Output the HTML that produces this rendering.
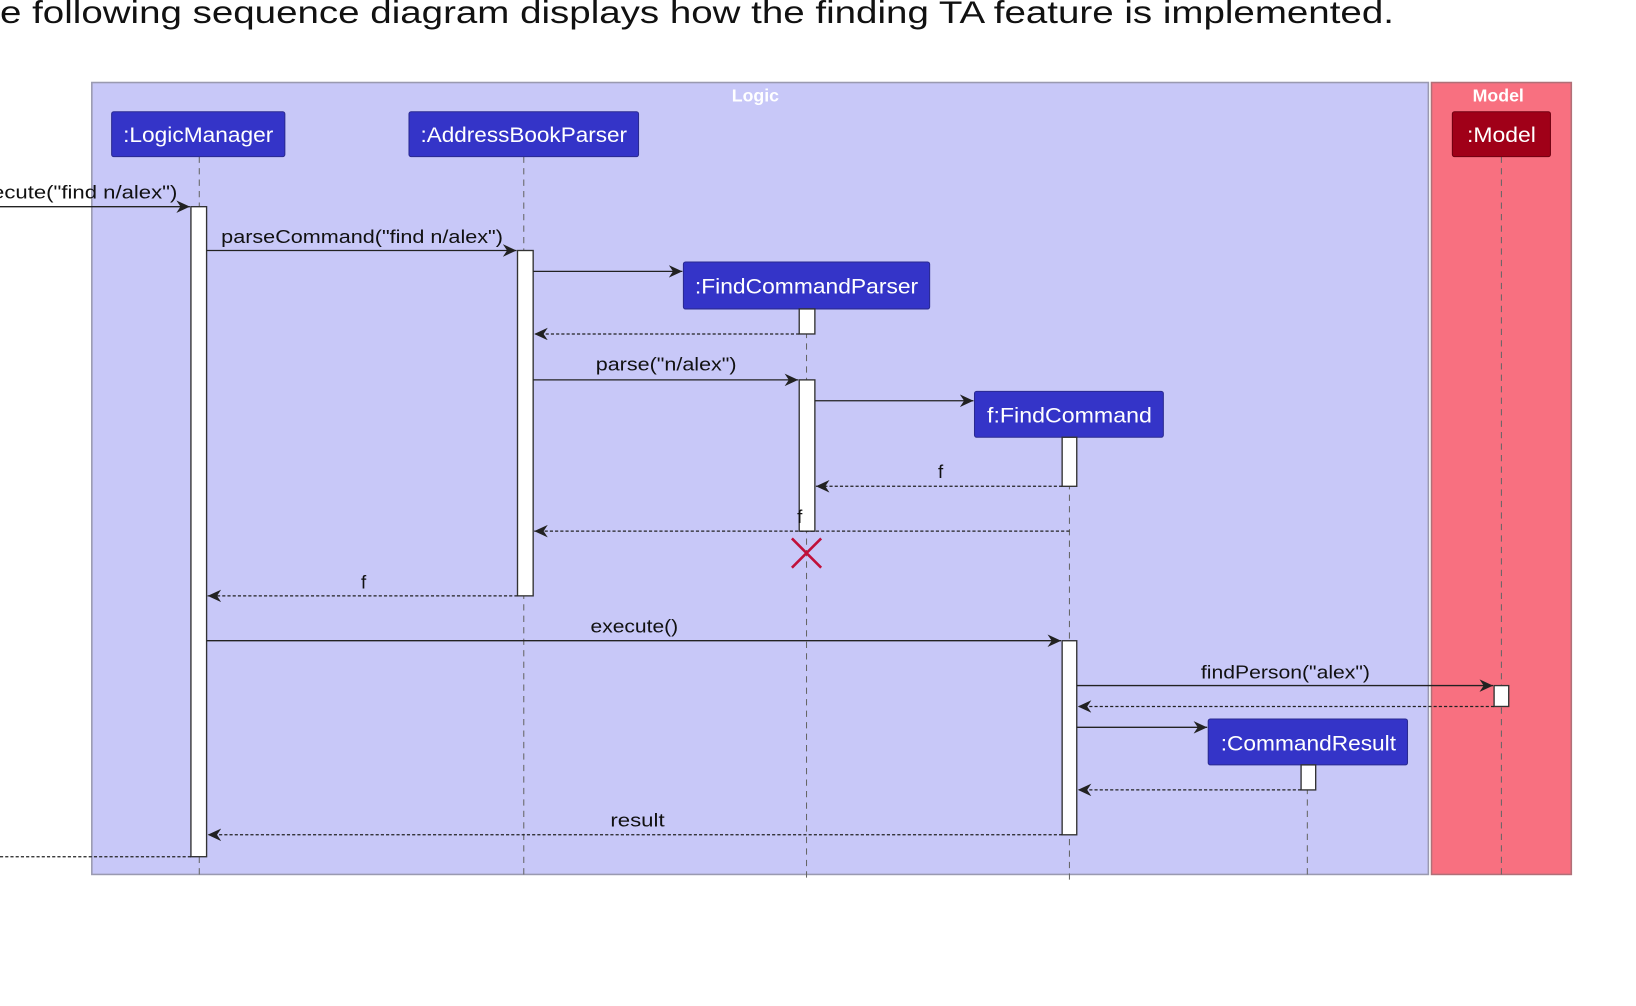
<!DOCTYPE html>
<html><head><meta charset="utf-8"><style>
html,body{margin:0;padding:0;background:#fff;width:1636px;height:1006px;overflow:hidden}
svg{display:block}
text{font-family:"Liberation Sans","DejaVu Sans",sans-serif}
</style></head><body>
<svg width="1636" height="1006" viewBox="0 0 1568 964" xmlns="http://www.w3.org/2000/svg">
<defs>
<marker id="a" markerWidth="14" markerHeight="12" refX="13" refY="6" orient="auto" markerUnits="userSpaceOnUse">
<path d="M0,0 L13,6 L0,12 L4,6 Z" fill="#222"/></marker>
</defs>
<text x="0" y="22" font-size="30" fill="#111" textLength="1336" lengthAdjust="spacingAndGlyphs">e following sequence diagram displays how the finding TA feature is implemented.</text>
<rect x="88" y="79" width="1281" height="759" fill="#C8C8F8" stroke="#9a9ab0" stroke-width="1.5"/>
<rect x="1372" y="79" width="134" height="759" fill="#F87080" stroke="#b07078" stroke-width="1.5"/>
<text x="724" y="97" font-size="17" font-weight="bold" fill="#fff" text-anchor="middle">Logic</text>
<text x="1436" y="97" font-size="17" font-weight="bold" fill="#fff" text-anchor="middle">Model</text>
<g stroke="#666" stroke-width="1" stroke-dasharray="6,5">
<line x1="191" y1="150" x2="191" y2="842"/><line x1="502" y1="150" x2="502" y2="842"/>
<line x1="773" y1="296" x2="773" y2="842"/><line x1="1025" y1="419" x2="1025" y2="848"/>
<line x1="1253" y1="733" x2="1253" y2="842"/><line x1="1439" y1="150" x2="1439" y2="842"/>
</g>
<g font-size="20" fill="#fff" text-anchor="middle">
<rect x="107" y="107" width="166" height="43" rx="2" fill="#3434C8" stroke="#2a2a90"/><text x="190" y="136" textLength="144" lengthAdjust="spacingAndGlyphs">:LogicManager</text>
<rect x="392" y="107" width="220" height="43" rx="2" fill="#3434C8" stroke="#2a2a90"/><text x="502" y="136" textLength="198" lengthAdjust="spacingAndGlyphs">:AddressBookParser</text>
<rect x="1392" y="107" width="94" height="43" rx="2" fill="#A00018" stroke="#700010"/><text x="1439" y="136" textLength="66" lengthAdjust="spacingAndGlyphs">:Model</text>
<rect x="655" y="251" width="236" height="45" rx="2" fill="#3434C8" stroke="#2a2a90"/><text x="773" y="281" textLength="214" lengthAdjust="spacingAndGlyphs">:FindCommandParser</text>
<rect x="934" y="375" width="181" height="44" rx="2" fill="#3434C8" stroke="#2a2a90"/><text x="1025" y="405" textLength="158" lengthAdjust="spacingAndGlyphs">f:FindCommand</text>
<rect x="1158" y="689" width="191" height="44" rx="2" fill="#3434C8" stroke="#2a2a90"/><text x="1254" y="719" textLength="168" lengthAdjust="spacingAndGlyphs">:CommandResult</text>
</g>
<g fill="#fff" stroke="#333" stroke-width="1.3">
<rect x="183" y="198" width="15" height="623"/>
<rect x="496" y="240" width="15" height="331"/>
<rect x="766" y="296" width="15" height="24"/>
<rect x="766" y="364" width="15" height="145"/>
<rect x="1018" y="419" width="14" height="47"/>
<rect x="1018" y="614" width="14" height="186"/>
<rect x="1432" y="657" width="14" height="20"/>
<rect x="1247" y="733" width="14" height="24"/>
</g>
<g stroke="#222" stroke-width="1.3" fill="none" marker-end="url(#a)">
<line x1="0" y1="198" x2="182" y2="198"/>
<line x1="198" y1="240" x2="495" y2="240"/>
<line x1="511" y1="260" x2="654" y2="260"/>
<line x1="511" y1="364" x2="765" y2="364"/>
<line x1="781" y1="384" x2="933" y2="384"/>
<line x1="198" y1="614" x2="1017" y2="614"/>
<line x1="1032" y1="657" x2="1431" y2="657"/>
<line x1="1032" y1="697" x2="1157" y2="697"/>
</g>
<g stroke="#222" stroke-width="1.2" fill="none" stroke-dasharray="3,2" marker-end="url(#a)">
<line x1="766" y1="320" x2="512" y2="320"/>
<line x1="1018" y1="466" x2="782" y2="466"/>
<line x1="1025" y1="509" x2="512" y2="509"/>
<line x1="496" y1="571" x2="199" y2="571"/>
<line x1="1432" y1="677" x2="1033" y2="677"/>
<line x1="1247" y1="757" x2="1033" y2="757"/>
<line x1="1018" y1="800" x2="199" y2="800"/>
</g>
<line x1="183" y1="821" x2="0" y2="821" stroke="#222" stroke-width="1.2" stroke-dasharray="3,2"/>
<g stroke="#C0103A" stroke-width="2.5"><line x1="759" y1="516" x2="787" y2="544"/><line x1="787" y1="516" x2="759" y2="544"/></g>
<g font-size="18" fill="#111">
<text x="-30" y="190" textLength="200" lengthAdjust="spacingAndGlyphs">execute("find n/alex")</text>
<text x="212" y="233" textLength="270" lengthAdjust="spacingAndGlyphs">parseCommand("find n/alex")</text>
<text x="571" y="355" textLength="135" lengthAdjust="spacingAndGlyphs">parse("n/alex")</text>
<text x="899" y="458">f</text>
<text x="764" y="501">f</text>
<text x="346" y="564">f</text>
<text x="608" y="606" text-anchor="middle" textLength="84" lengthAdjust="spacingAndGlyphs">execute()</text>
<text x="1232" y="650" text-anchor="middle" textLength="162" lengthAdjust="spacingAndGlyphs">findPerson("alex")</text>
<text x="611" y="792" text-anchor="middle" textLength="52" lengthAdjust="spacingAndGlyphs">result</text>
</g>
</svg>
</body></html>
